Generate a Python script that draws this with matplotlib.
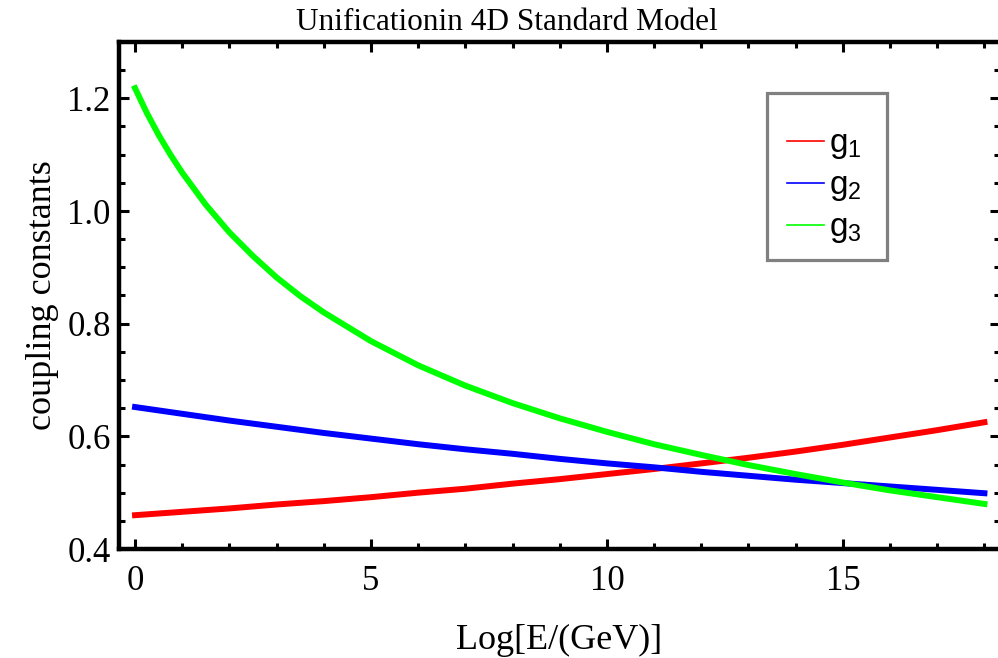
import numpy as np
import matplotlib
matplotlib.use('Agg')
import matplotlib.pyplot as plt
from matplotlib.ticker import MultipleLocator
from matplotlib.patches import Rectangle

# values
x_g3 = [0, 0.25, 0.5, 0.75, 1, 1.5, 2, 2.5, 3, 3.5, 4, 5, 6, 7, 8, 9, 10, 11, 12, 13, 14, 15, 16, 17, 18]
g3 = [1.218, 1.174, 1.135, 1.100, 1.068, 1.011, 0.962, 0.920, 0.882, 0.849, 0.820,
      0.769, 0.726, 0.690, 0.659, 0.632, 0.608, 0.586, 0.567, 0.549, 0.533, 0.518,
      0.504, 0.492, 0.480]

x = [0, 1, 2, 3, 4, 5, 6, 7, 8, 9, 10, 11, 12, 13, 14, 15, 16, 17, 18]
g1 = [0.460, 0.466, 0.472, 0.479, 0.485, 0.492, 0.500, 0.507, 0.516, 0.524,
      0.533, 0.542, 0.552, 0.562, 0.573, 0.585, 0.598, 0.611, 0.625]
g2 = [0.652, 0.640, 0.628, 0.617, 0.606, 0.596, 0.586, 0.577, 0.569, 0.560,
      0.552, 0.545, 0.537, 0.530, 0.523, 0.517, 0.511, 0.505, 0.499]

labels = ['$\\mathregular{g_1}$', '$\\mathregular{g_2}$', '$\\mathregular{g_3}$']

plt.rcParams['font.family'] = 'Liberation Serif'
plt.rcParams['mathtext.fontset'] = 'custom'
plt.rcParams['mathtext.rm'] = 'Liberation Sans'

fig = plt.figure(figsize=(9.98, 6.58), dpi=100)
W, H = 998., 658.
ax = fig.add_axes([119/W, (H-549)/H, 881/W, 507/H])

ax.plot(x, g1, c='#ff0000', lw=4.3)
ax.plot(x, g2, c='#0000ff', lw=4.3)
ax.plot(x_g3, g3, c='#00ff00', lw=4.3)

ax.set_xlim(-0.34, 18.33)
ax.set_ylim(0.4, 1.3)
ax.xaxis.set_major_locator(MultipleLocator(5))
ax.xaxis.set_minor_locator(MultipleLocator(1))
ax.yaxis.set_major_locator(MultipleLocator(0.2))
ax.yaxis.set_minor_locator(MultipleLocator(0.05))
ax.yaxis.set_major_formatter(matplotlib.ticker.FormatStrFormatter('%.1f'))
ax.tick_params(which='both', direction='in', top=True, right=True, width=2.2, labelsize=25)
ax.tick_params(axis='x', pad=11.5)
ax.tick_params(axis='y', pad=6)
ax.tick_params(which='major', length=7)
ax.tick_params(which='minor', length=4)
for s in ax.spines.values():
    s.set_linewidth(3.2)

ax.set_xlabel('Log[E/(GeV)]', fontsize=26, labelpad=19)
ax.set_ylabel('coupling constants', fontsize=26, labelpad=6)
fig.text(507/W, 1-22/H, 'Unificationin 4D Standard Model', fontsize=22.5, ha='center', va='center')

# legend: gray box drawn separately, entries without frame
ax.add_patch(Rectangle((0.7355, 0.570), 0.1362, 0.3294, transform=ax.transAxes,
                       facecolor='white', edgecolor='#808080', lw=2.3, zorder=4))
h1, = ax.plot([], [], c='#ff0000', lw=1.2)
h2, = ax.plot([], [], c='#0000ff', lw=1.2)
h3, = ax.plot([], [], c='#00ff00', lw=1.2)
leg = ax.legend([h1, h2, h3], labels, loc='upper left', bbox_to_anchor=(0.732, 0.8757),
                prop={'family': 'Liberation Sans', 'size': 24}, frameon=False,
                handlelength=1.1, handletextpad=0.15,
                labelspacing=0.27, borderpad=0.7, borderaxespad=0)
leg.set_zorder(5)

fig.savefig('out.png', dpi=100)
